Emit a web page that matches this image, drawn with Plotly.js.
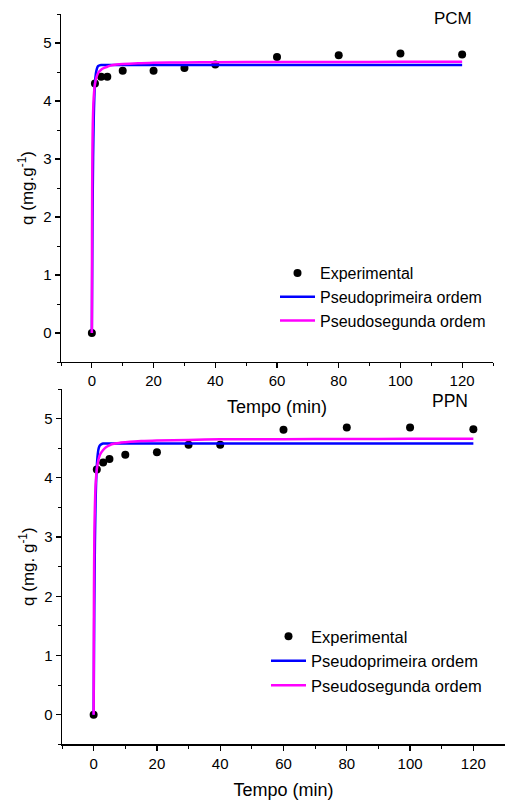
<!DOCTYPE html>
<html>
<head>
<meta charset="utf-8">
<script src="https://cdn.plot.ly/plotly-3.0.1.min.js"></script>
<style>html,body{margin:0;padding:0;background:#fff;}#chart{width:505px;height:801px;}</style>
</head>
<body>
<div id="chart"></div>
<script>
// Experimental time points (min)
const tempo = [0, 1, 3, 5, 10, 20, 30, 40, 60, 80, 100, 120];
// PCM experimental q (mg/g)
const qPCM = [0, 4.30, 4.42, 4.42, 4.52, 4.52, 4.57, 4.63, 4.76, 4.79, 4.82, 4.80];
// PPN experimental q (mg/g)
const qPPN = [0, 4.14, 4.26, 4.32, 4.39, 4.43, 4.56, 4.56, 4.81, 4.85, 4.85, 4.82];

// Fitted curves
const tFit1 = [0, 0.2, 0.4, 0.6, 0.8, 1, 1.3, 1.6, 2, 2.5, 3, 5, 10, 20, 40, 60, 80, 100, 120];
const pcmPrimeira = [0, 1.91, 3.02, 3.68, 4.07, 4.30, 4.47, 4.55, 4.60, 4.615, 4.62, 4.62, 4.62, 4.62, 4.62, 4.62, 4.62, 4.62, 4.62];
const ppnPrimeira = [0, 1.80, 2.90, 3.56, 3.96, 4.20, 4.40, 4.50, 4.55, 4.57, 4.58, 4.58, 4.58, 4.58, 4.58, 4.58, 4.58, 4.58, 4.58];

const tFit2 = [0, 0.05, 0.1, 0.2, 0.3, 0.5, 0.75, 1, 1.5, 2, 3, 4, 5, 6, 8, 10, 15, 20, 30, 40, 60, 80, 100, 120];
const pcmSegunda = [0, 1.66, 2.45, 3.22, 3.59, 3.96, 4.17, 4.29, 4.41, 4.48, 4.54, 4.57, 4.59, 4.61, 4.63, 4.64, 4.65, 4.66, 4.665, 4.67, 4.673, 4.674, 4.675, 4.675];
const ppnSegunda = [0, 1.33, 2.07, 2.87, 3.29, 3.73, 3.99, 4.14, 4.30, 4.39, 4.47, 4.52, 4.55, 4.57, 4.59, 4.60, 4.62, 4.63, 4.64, 4.65, 4.653, 4.656, 4.658, 4.66];

const names = ['Experimental', 'Pseudoprimeira ordem', 'Pseudosegunda ordem'];
const FONT = 'Liberation Sans, Arial, sans-serif';

const traces = [
  {x: tempo, y: qPCM, type: 'scatter', mode: 'markers', name: names[0], xaxis: 'x', yaxis: 'y', legend: 'legend',
   marker: {color: '#000', size: 8}},
  {x: tFit1, y: pcmPrimeira, type: 'scatter', mode: 'lines', name: names[1], xaxis: 'x', yaxis: 'y', legend: 'legend',
   line: {color: '#0000ff', width: 2.5, shape: 'spline', smoothing: 0.6}},
  {x: tFit2, y: pcmSegunda, type: 'scatter', mode: 'lines', name: names[2], xaxis: 'x', yaxis: 'y', legend: 'legend',
   line: {color: '#ff00ff', width: 2.5, shape: 'spline', smoothing: 0.6}},
  {x: tempo, y: qPPN, type: 'scatter', mode: 'markers', name: names[0], xaxis: 'x2', yaxis: 'y2', legend: 'legend2',
   marker: {color: '#000', size: 8}},
  {x: tFit1, y: ppnPrimeira, type: 'scatter', mode: 'lines', name: names[1], xaxis: 'x2', yaxis: 'y2', legend: 'legend2',
   line: {color: '#0000ff', width: 2.5, shape: 'spline', smoothing: 0.6}},
  {x: tFit2, y: ppnSegunda, type: 'scatter', mode: 'lines', name: names[2], xaxis: 'x2', yaxis: 'y2', legend: 'legend2',
   line: {color: '#ff00ff', width: 2.5, shape: 'spline', smoothing: 0.6}}
];

function xAx(domain, anchor) {
  return {
    domain: domain, anchor: anchor, range: [-10, 130], tick0: 0, dtick: 20,
    showgrid: false, zeroline: false, showline: true, linecolor: '#000', linewidth: 1.3,
    ticks: 'outside', ticklen: 5, tickwidth: 1.2, tickcolor: '#000',
    minor: {dtick: 10, ticks: 'outside', ticklen: 3, tickwidth: 1, tickcolor: '#000', showgrid: false},
    tickfont: {family: FONT, size: 15, color: '#000'},
    title: {text: 'Tempo (min)', font: {family: FONT, size: 18, color: '#000'}, standoff: 12}
  };
}
function yAx(domain, anchor, title) {
  return {
    domain: domain, anchor: anchor, range: [-0.5, 5.5], tick0: 0, dtick: 1,
    showgrid: false, zeroline: false, showline: true, linecolor: '#000', linewidth: 1.3,
    ticks: 'outside', ticklen: 5, tickwidth: 1.2, tickcolor: '#000',
    minor: {dtick: 0.5, ticks: 'outside', ticklen: 3, tickwidth: 1, tickcolor: '#000', showgrid: false},
    tickfont: {family: FONT, size: 15, color: '#000'},
    title: {text: title, font: {family: FONT, size: 17, color: '#000'}, standoff: 5}
  };
}

const layout = {
  width: 505, height: 801,
  margin: {l: 0, r: 0, t: 0, b: 0},
  paper_bgcolor: '#fff', plot_bgcolor: '#fff',
  showlegend: true,
  xaxis: xAx([61/505, 493/505], 'y'),
  yaxis: yAx([1 - 362/801, 1 - 14/801], 'x', 'q (mg.g<sup>-1</sup>)'),
  xaxis2: xAx([62/505, 1], 'y2'),
  yaxis2: yAx([1 - 744.3/801, 1 - 389/801], 'x2', 'q (mg. g<sup>-1</sup>)'),
  legend: {x: 275/505, y: 1 - 256/801, xanchor: 'left', yanchor: 'top', bgcolor: 'rgba(0,0,0,0)',
           itemwidth: 35, font: {family: FONT, size: 16, color: '#000'}, tracegroupgap: 0},
  legend2: {x: 266/505, y: 1 - 619/801, xanchor: 'left', yanchor: 'top', bgcolor: 'rgba(0,0,0,0)',
           itemwidth: 35, font: {family: FONT, size: 16.5, color: '#000'}, tracegroupgap: 0},
  annotations: [
    {text: 'PCM', xref: 'paper', yref: 'paper', x: 453/505, y: 1 - 18/801, xanchor: 'center', yanchor: 'middle',
     showarrow: false, font: {family: FONT, size: 17, color: '#000'}},
    {text: 'PPN', xref: 'paper', yref: 'paper', x: 450/505, y: 1 - 401/801, xanchor: 'center', yanchor: 'middle',
     showarrow: false, font: {family: FONT, size: 17.5, color: '#000'}}
  ]
};

Plotly.newPlot('chart', traces, layout, {displayModeBar: false, staticPlot: true});
</script>
</body>
</html>
